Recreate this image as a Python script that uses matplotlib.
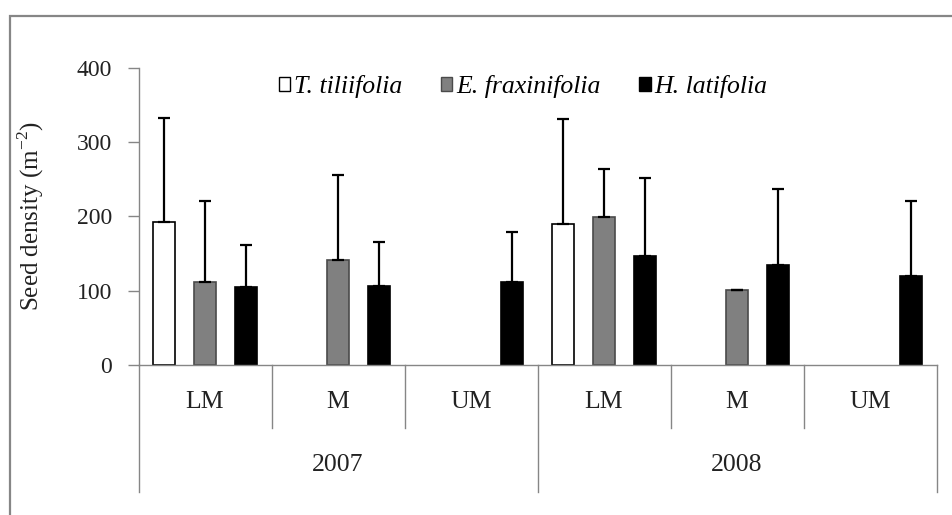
import numpy as np
import matplotlib.pyplot as plt
from matplotlib.patches import Rectangle, Patch
from matplotlib import transforms

plt.rcParams['font.family'] = ['Liberation Serif', 'DejaVu Serif']

# sites within each year, and the years
sites = ['LM', 'M', 'UM', 'LM', 'M', 'UM']
years = ['2007', '2008']
species = ['T. tiliifolia', 'E. fraxinifolia', 'H. latifolia']

nan = np.nan
tilia = [192, nan, nan, 189, nan, nan]
tilia_err = [140, nan, nan, 142, nan, nan]
eryth = [112, 141, nan, 199, 100.5, nan]
eryth_err = [108, 114, nan, 64, 0, nan]
helio = [105, 106, 112, 146, 135, 120]
helio_err = [57, 59, 67, 106, 101, 100]

W, H = 952, 515
fig = plt.figure(figsize=(W / 100, H / 100), dpi=100)
ax = fig.add_axes([138.5 / W, (H - 365) / H, 798 / W, 297.5 / H])

grey = '#868686'
txt = '#222222'
x = np.arange(len(sites))
off = 0.308
bw = 0.162
series = [
    (tilia, tilia_err, 'white', 'black'),
    (eryth, eryth_err, '#808080', '#4a4a4a'),
    (helio, helio_err, 'black', 'black'),
]
for k, (vals, errs, fc, ec) in enumerate(series):
    xs = x + (k - 1) * off
    vals = np.array(vals, dtype=float)
    errs = np.array(errs, dtype=float)
    ax.bar(xs, vals, width=bw, color=fc, edgecolor=ec, linewidth=1.2, zorder=2)
    ax.errorbar(xs, vals, yerr=[np.zeros_like(errs), errs], fmt='none',
                ecolor='black', elinewidth=1.6, capsize=4.5, capthick=1.6, zorder=3)

ax.set_xlim(-0.5, 5.5)
ax.set_ylim(0, 400)
ax.set_yticks([0, 100, 200, 300, 400])
ax.tick_params(axis='y', direction='out', length=8, width=1, color=grey,
               labelsize=17, pad=11, labelcolor=txt)
ax.set_xticks([])
for s in ['top', 'right']:
    ax.spines[s].set_visible(False)
for s in ['left', 'bottom']:
    ax.spines[s].set_color(grey)
    ax.spines[s].set_linewidth(1)

ax.set_ylabel('Seed density (m$^{\\mathregular{-2}}$)', fontsize=18, labelpad=22,
              color=txt)

# two-level category axis below the bars
tr = transforms.blended_transform_factory(ax.transData, ax.transAxes)
y_site = -(428 - 365) / 297.5
y_year = -(492 - 365) / 297.5
for b in np.arange(-0.5, 6.0, 1.0):
    low = y_year if b in (-0.5, 2.5, 5.5) else y_site
    ax.plot([b, b], [0, low], transform=tr, color=grey, lw=1, clip_on=False)
for i, s in enumerate(sites):
    ax.text(i, -(402 - 365) / 297.5, s, transform=tr, ha='center', va='center',
            fontsize=18.5, color=txt)
for j, yr in enumerate(years):
    ax.text(1 + 3 * j, -(465 - 365) / 297.5, yr, transform=tr, ha='center',
            va='center', fontsize=18.5, color=txt)

handles = [Patch(facecolor=fc, edgecolor=ec, linewidth=1) for _, _, fc, ec in series]
fig.legend(handles, species, loc='center', bbox_to_anchor=(523 / W, (H - 87) / H),
           ncol=3, frameon=False, prop={'style': 'italic', 'size': 18.5},
           handlelength=0.45, handleheight=0.45, handletextpad=0.15,
           columnspacing=1.5)

fig.add_artist(Rectangle((9.5 / W, -0.1), 1.2, (H - 15.5) / H + 0.1,
                         transform=fig.transFigure, fill=False, edgecolor=grey,
                         linewidth=1.6))

fig.savefig('out.png', dpi=100)
